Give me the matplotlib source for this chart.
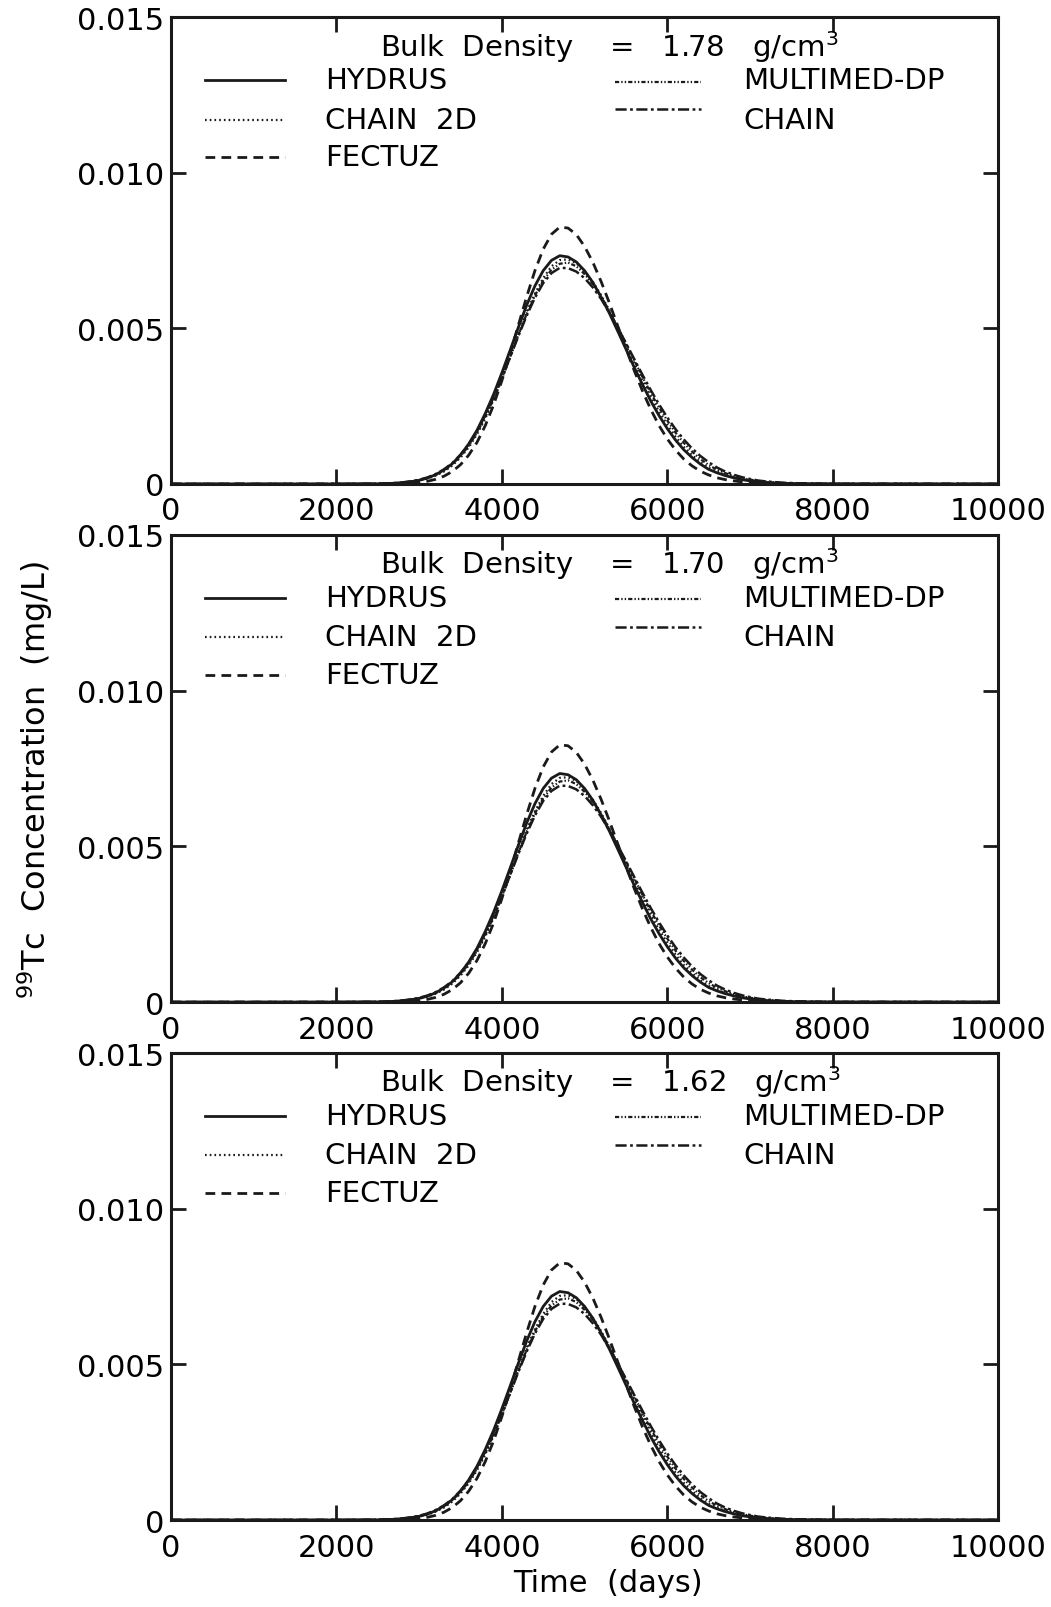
import matplotlib
matplotlib.use("Agg")
import matplotlib.pyplot as plt

plt.rcParams['font.family'] = ['DejaVu Sans']
plt.rcParams['mathtext.fontset'] = 'dejavusans'
plt.rcParams['lines.scale_dashes'] = False

# time grid (days)
time = [0, 2000,
        2500, 2600, 2700, 2800, 2900, 3000, 3100, 3200, 3300, 3400,
        3500, 3600, 3700, 3800, 3900, 4000, 4100, 4200, 4300, 4400,
        4500, 4600, 4700, 4800, 4900, 5000, 5100, 5200, 5300, 5400,
        5500, 5600, 5700, 5800, 5900, 6000, 6100, 6200, 6300, 6400,
        6500, 6600, 6700, 6800, 6900, 7000, 7100, 7200, 7300, 7400,
        7500, 7600, 7700, 7800, 7900, 8000,
        10000]

hydrus = [0, 0,
          0.000005, 0.000012, 0.000024, 0.000044, 0.000074, 0.00012, 0.00019, 0.00030, 0.00045, 0.00065,
          0.00093, 0.00129, 0.00173, 0.00227, 0.00288, 0.00357, 0.00430, 0.00504, 0.00575, 0.00637,
          0.00686, 0.00719, 0.00734, 0.00730, 0.00714, 0.00686, 0.00648, 0.00601, 0.00549, 0.00492,
          0.00434, 0.00375, 0.00320, 0.00267, 0.00220, 0.00178, 0.00141, 0.00110, 0.00085, 0.00064,
          0.00047, 0.00036, 0.00027, 0.00020, 0.00014, 0.00010, 0.00007, 0.00005, 0.00003, 0.00002,
          0.000015, 0.00001, 0.000007, 0.000005, 0.000003, 0.000002,
          0]

chain2d = [0, 0,
           0.000003, 0.000009, 0.000019, 0.000038, 0.000065, 0.00011, 0.00017, 0.00027, 0.00040, 0.00059,
           0.00085, 0.00118, 0.00160, 0.00211, 0.00270, 0.00336, 0.00408, 0.00482, 0.00554, 0.00612,
           0.00662, 0.00700, 0.00720, 0.00722, 0.00710, 0.00683, 0.00650, 0.00607, 0.00558, 0.00503,
           0.00446, 0.00389, 0.00334, 0.00281, 0.00233, 0.00191, 0.00152, 0.00119, 0.00093, 0.00070,
           0.00052, 0.00039, 0.00030, 0.00022, 0.00016, 0.00011, 0.00008, 0.00005, 0.00004, 0.00003,
           0.00002, 0.000012, 0.000008, 0.000006, 0.000004, 0.000002,
           0]

fectuz = [0, 0,
          0.000001, 0.000003, 0.000007, 0.000014, 0.000026, 0.000049, 0.000087, 0.00015, 0.00025, 0.00040,
          0.00062, 0.00093, 0.00134, 0.00188, 0.00254, 0.00332, 0.00419, 0.00511, 0.00602, 0.00686,
          0.00755, 0.00803, 0.00826, 0.00823, 0.00802, 0.00764, 0.00713, 0.00651, 0.00582, 0.00509,
          0.00436, 0.00365, 0.00299, 0.00240, 0.00188, 0.00145, 0.00109, 0.00080, 0.00058, 0.00041,
          0.00029, 0.00020, 0.00014, 0.00010, 0.00007, 0.00005, 0.00003, 0.00002, 0.000015, 0.00001,
          0.000007, 0.000005, 0.000003, 0.000002, 0.000001, 0,
          0]

multimed = [0, 0,
            0.000004, 0.00001, 0.00002, 0.000045, 0.000075, 0.00012, 0.00019, 0.00029, 0.00043, 0.00063,
            0.00089, 0.00123, 0.00165, 0.00216, 0.00274, 0.00338, 0.00408, 0.00479, 0.00547, 0.00606,
            0.00654, 0.00689, 0.00708, 0.00712, 0.00700, 0.00675, 0.00643, 0.00603, 0.00556, 0.00505,
            0.00452, 0.00398, 0.00344, 0.00293, 0.00246, 0.00204, 0.00165, 0.00132, 0.00104, 0.00080,
            0.00061, 0.00046, 0.00035, 0.00026, 0.00019, 0.00014, 0.00010, 0.00007, 0.00005, 0.00003,
            0.00002, 0.000015, 0.00001, 0.000007, 0.000005, 0.000003,
            0]

chain = [0, 0,
         0.000008, 0.000016, 0.00003, 0.000052, 0.000085, 0.000136, 0.00021, 0.00032, 0.00047, 0.00067,
         0.00094, 0.00128, 0.00170, 0.00221, 0.00278, 0.00341, 0.00408, 0.00476, 0.00541, 0.00599,
         0.00646, 0.00678, 0.00695, 0.00694, 0.00683, 0.00662, 0.00632, 0.00595, 0.00551, 0.00503,
         0.00453, 0.00402, 0.00351, 0.00302, 0.00256, 0.00214, 0.00176, 0.00143, 0.00114, 0.00090,
         0.00070, 0.00053, 0.00040, 0.00030, 0.00022, 0.00016, 0.00011, 0.00008, 0.00006, 0.00004,
         0.00003, 0.00002, 0.000014, 0.00001, 0.000007, 0.000005,
         0]

densities = ["1.78", "1.70", "1.62"]
xticks = [0, 2000, 4000, 6000, 8000, 10000]
yticks = [0, 0.005, 0.010, 0.015]
ytick_labels = ["0", "0.005", "0.010", "0.015"]

styles = {
    "HYDRUS": dict(ls="-", lw=2.0),
    "CHAIN  2D": dict(ls=(0, (1.2, 2.2)), lw=1.6),
    "FECTUZ": dict(ls=(0, (7, 4.5)), lw=2.0),
    "MULTIMED-DP": dict(ls=(0, (3, 1.5, 1, 1.5, 1, 1.5)), lw=1.6),
    "CHAIN": dict(ls=(0, (8, 2.5, 2, 2.5)), lw=1.8),
}
series = [("MULTIMED-DP", multimed), ("CHAIN", chain), ("CHAIN  2D", chain2d),
          ("FECTUZ", fectuz), ("HYDRUS", hydrus)]

fig = plt.figure(figsize=(10.51, 16.08), dpi=100)
boxes = [[0.1627, 0.6984, 0.787, 0.2901],
         [0.1627, 0.3762, 0.787, 0.2905],
         [0.1627, 0.0541, 0.787, 0.2904]]

for box, dens in zip(boxes, densities):
    ax = fig.add_axes(box)
    for name, vals in series:
        ax.plot(time, vals, color="#1a1a1a", **styles[name])
    ax.set_xlim(0, 10000)
    ax.set_ylim(0, 0.015)
    ax.set_xticks(xticks)
    ax.set_xticklabels([str(v) for v in xticks], fontsize=22)
    ax.set_yticks(yticks)
    ax.set_yticklabels(ytick_labels, fontsize=22)
    ax.tick_params(direction="in", top=True, right=True, length=11, width=2,
                   color="#1a1a1a")
    ax.tick_params(axis="x", pad=9)
    ax.tick_params(axis="y", pad=5)
    for sp in ax.spines.values():
        sp.set_linewidth(2.2)
        sp.set_color("#1a1a1a")

    # hand-placed legend like the original
    tr = ax.transAxes
    ax.text(0.253, 0.939, "Bulk  Density    =   " + dens + "   g/cm$^3$",
            transform=tr, fontsize=21, ha="left", va="center")
    left = [("HYDRUS", 0.865, 0.865), ("CHAIN  2D", 0.781, 0.781), ("FECTUZ", 0.700, 0.700)]
    right = [("MULTIMED-DP", 0.865, 0.862), ("CHAIN", 0.781, 0.804)]
    for name, ty, ly in left:
        ax.plot([0.041, 0.138], [ly, ly], transform=tr, color="#1a1a1a", **styles[name])
        ax.text(0.186, ty, name, transform=tr, fontsize=21, ha="left", va="center")
    for name, ty, ly in right:
        ax.plot([0.537, 0.641], [ly, ly], transform=tr, color="#1a1a1a", **styles[name])
        ax.text(0.692, ty, name, transform=tr, fontsize=21, ha="left", va="center")

fig.text(0.033, 0.515, "$^{99}$Tc  Concentration  (mg/L)", rotation=90,
         fontsize=23, ha="center", va="center")
fig.text(0.578, 0.015, "Time  (days)", fontsize=22, ha="center", va="center")

fig.savefig("out.png", dpi=100, facecolor="white")
